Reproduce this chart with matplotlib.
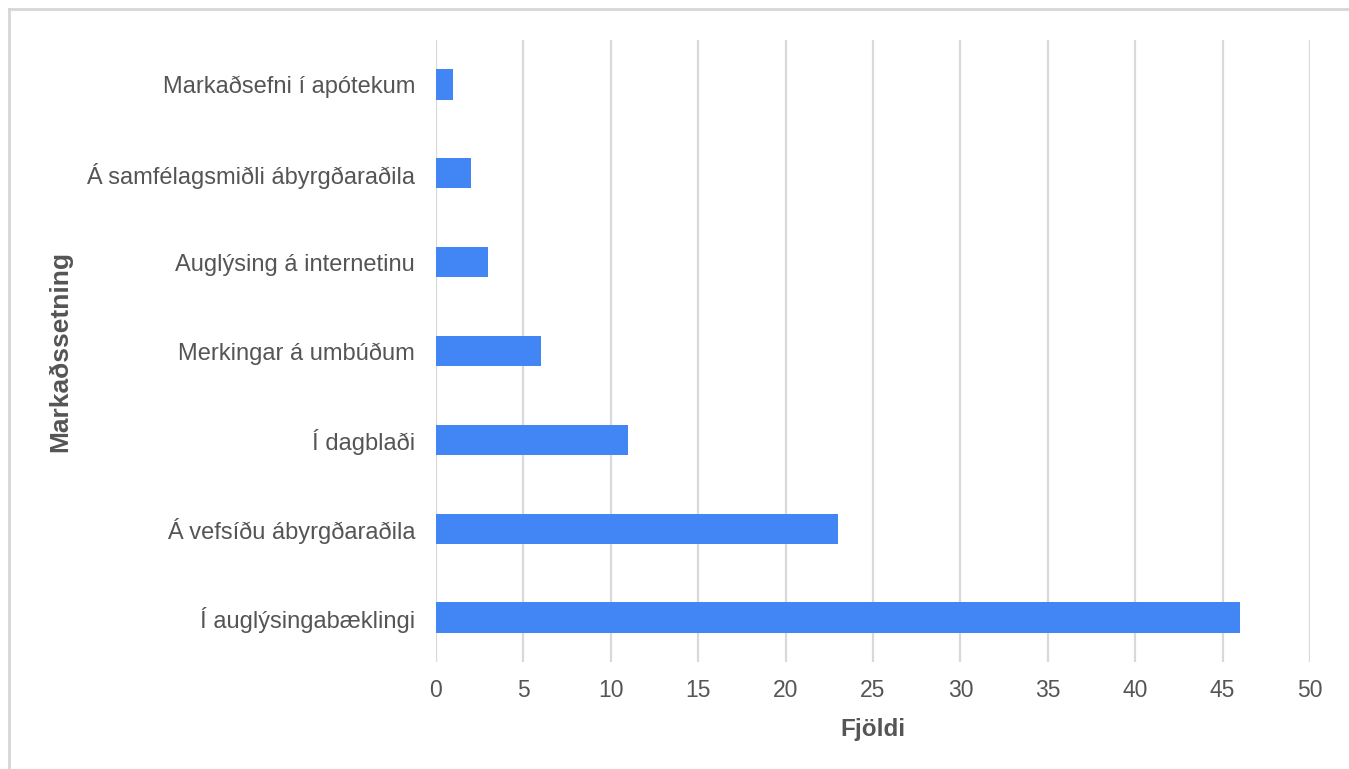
import matplotlib.pyplot as plt
from matplotlib.lines import Line2D

flokkar = [
    "Í auglýsingabæklingi",
    "Á vefsíðu ábyrgðaraðila",
    "Í dagblaði",
    "Merkingar á umbúðum",
    "Auglýsing á internetinu",
    "Á samfélagsmiðli ábyrgðaraðila",
    "Markaðsefni í apótekum",
]
fjoldi = [46, 23, 11, 6, 3, 2, 1]
x_ticks = list(range(0, 55, 5))

plt.rcParams["font.family"] = ["Liberation Sans", "DejaVu Sans"]
textalitur = "#555555"

fig = plt.figure(figsize=(13.49, 7.69), dpi=100)
W, H = 1349, 769
ax = fig.add_axes([436 / W, 1 - 662 / H, (1310 - 436) / W, (662 - 40) / H])

ax.barh(range(len(flokkar)), fjoldi, height=0.34, color="#4285F4", zorder=3)

ax.set_xlim(0, 50)
ax.set_ylim(-0.5, len(flokkar) - 0.5)
ax.set_xticks(x_ticks)
ax.set_yticks(range(len(flokkar)))
ax.set_yticklabels(flokkar)

ax.grid(axis="x", color="#d9d9d9", linewidth=1.6, zorder=0)
ax.grid(axis="y", visible=False)
for s in ax.spines.values():
    s.set_visible(False)

ax.tick_params(axis="both", length=0, colors=textalitur)
ax.tick_params(axis="y", labelsize=17, pad=15)
ax.tick_params(axis="x", labelsize=16.5, pad=12)

ax.set_xlabel("Fjöldi", fontsize=17.5, fontweight="bold", color=textalitur, labelpad=12)
fig.text(60 / W, 1 - 351 / H, "Markaðssetning", rotation=90, fontsize=19,
         fontweight="bold", color=textalitur, ha="center", va="center")

# ramminn efst og til vinstri
fig.add_artist(Line2D([9 / W, 9 / W], [0, 1 - 9 / H], color="#d6d6d6", lw=2))
fig.add_artist(Line2D([9 / W, 1], [1 - 9 / H, 1 - 9 / H], color="#d6d6d6", lw=2))

fig.savefig("out.png", dpi=100, facecolor="white")
